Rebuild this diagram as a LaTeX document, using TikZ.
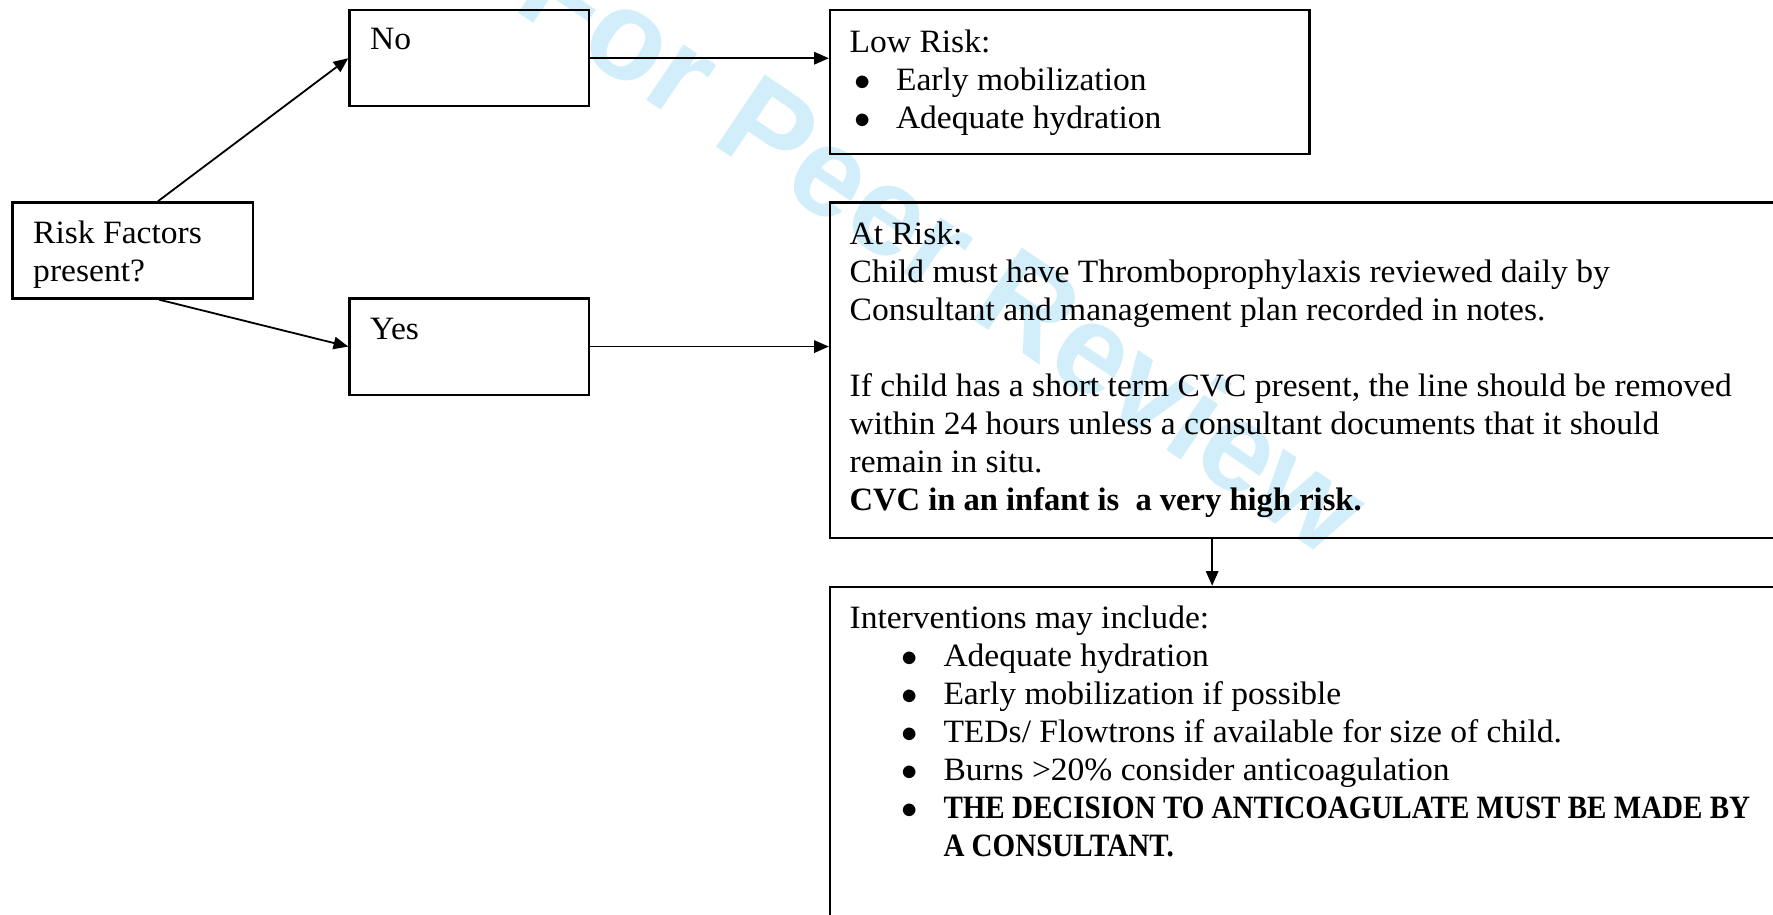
\documentclass[tikz,border=0pt]{standalone}
\usepackage{fontspec}
\setmainfont{Liberation Serif}[UprightFeatures={FakeStretch=1.03}]
\newfontfamily\capsbold{Liberation Serif Bold}[FakeStretch=0.892]
\newfontfamily\wmfont{Liberation Sans Bold}
\usetikzlibrary{arrows.meta,calc}
\definecolor{wm}{RGB}{210,238,251}
\newcommand{\bul}{\makebox[18.5pt][l]{$\bullet$}}
\begin{document}
\begin{tikzpicture}[x=0.5pt,y=-0.5pt,
  box/.style={draw,line width=1pt,inner sep=0pt,anchor=north west},
  txt/.style={anchor=base west,inner sep=0pt,font=\fontsize{14.4pt}{16.8pt}\selectfont},
  arr/.style={line width=0.8pt,-{Triangle[length=6.5pt,width=5.5pt]}}]
\useasboundingbox (0,0) rectangle (1568,809);
\clip (0,0) rectangle (1568,809);
% watermark
\node[font=\wmfont\fontsize{56pt}{62pt}\selectfont, text=wm, rotate=-34, inner sep=0pt] (wmark) at (836,218) {For Peer Review};
% boxes
\node[box,minimum width=106.5pt,minimum height=42.5pt] (risk) at (10,178) {};
\node[box,minimum width=106pt,minimum height=42.5pt] (no) at (308,8) {};
\node[box,minimum width=106pt,minimum height=42.5pt] (yes) at (308,263) {};
\node[box,minimum width=212pt,minimum height=63.5pt] (low) at (733,8) {};
\node[box,minimum width=440pt,minimum height=148.5pt] (atrisk) at (733,178) {};
\node[box,minimum width=440pt,minimum height=160pt] (interv) at (733,518) {};
% texts
\node[txt] (risktxt) at (29,215) {\parbox[t]{100pt}{Risk Factors\\present?}};
\node[txt] (notxt) at (327,44) {No};
\node[txt] (yestxt) at (327,300) {Yes};
\node[txt] (lowtxt) at (751,46) {\parbox[t]{200pt}{Low Risk:\\
\hspace*{2pt}\bul Early mobilization\\
\hspace*{2pt}\bul Adequate hydration}};
\node[txt] (attxt) at (751,216) {\parbox[t]{420pt}{At Risk:\\
Child must have Thromboprophylaxis reviewed daily by\\
Consultant and management plan recorded in notes.\\
\mbox{}\\
If child has a short term CVC present, the line should be removed\\
within 24 hours unless a consultant documents that it should\\
remain in situ.\\
\textbf{CVC in an infant is\ \ a very high risk.}}};
\node[txt] (intxt) at (751,556) {\parbox[t]{420pt}{Interventions may include:\\
\hspace*{23pt}\bul Adequate hydration\\
\hspace*{23pt}\bul Early mobilization if possible\\
\hspace*{23pt}\bul TEDs/ Flowtrons if available for size of child.\\
\hspace*{23pt}\bul Burns >20\% consider anticoagulation\\
\hspace*{23pt}\bul {\capsbold THE DECISION TO ANTICOAGULATE MUST BE MADE BY}\\
\hspace*{41.5pt}{\capsbold A CONSULTANT.}}};
% connectors
\draw[arr] (risk.63) -- (no.west);
\draw[arr] (risk.-62) -- (yes.west);
\draw[arr] (no.east) -- (no.east -| low.west);
\draw[arr] (yes.east) -- (yes.east -| atrisk.west);
\draw[arr] ($(atrisk.south west)+(339,0)$) -- ($(interv.north west)+(339,0)$);
\end{tikzpicture}
\end{document}
